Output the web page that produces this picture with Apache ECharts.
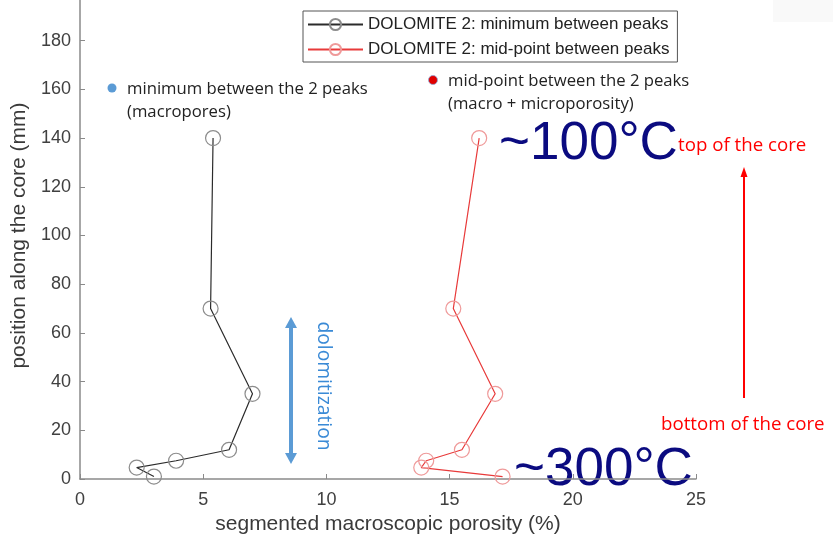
<!DOCTYPE html>
<html>
<head>
<meta charset="utf-8">
<script src="https://cdn.jsdelivr.net/npm/echarts@6/dist/echarts.min.js"></script>
<style>
  html, body { margin: 0; padding: 0; background: #ffffff; }
  #chart { width: 833px; height: 548px; }
</style>
</head>
<body>
<div id="chart"></div>
<script>
// Porosity profiles along the core (DOLOMITE 2)
const seriesNames = ['DOLOMITE 2: minimum between peaks', 'DOLOMITE 2: mid-point between peaks'];
const positionMm = [140, 70, 35, 12, 7.5, 4.7, 1];
const porosityMinimum = [5.4, 5.3, 7.0, 6.05, 3.9, 2.3, 3.0];
const porosityMidpoint = [16.2, 15.15, 16.85, 15.5, 14.05, 13.85, 17.15];
const xTicks = { min: 0, max: 25, step: 5 };
const yTicks = { min: 0, max: 200, step: 20 };

const pairs = (xs, ys) => xs.map((x, i) => [x, ys[i]]);

const chart = echarts.init(document.getElementById('chart'), null, { renderer: 'canvas' });

const noteFont = '"Open Sans", sans-serif';
const axisFont = '"Liberation Sans", Arial, sans-serif';

chart.setOption({
  backgroundColor: '#ffffff',
  animation: false,
  grid: { left: 80, right: 137, top: -8, bottom: 69, outerBoundsMode: 'none', containLabel: false },
  legend: {
    orient: 'vertical',
    left: 303,
    top: 11,
    itemWidth: 55,
    itemHeight: 14,
    itemGap: 8,
    padding: [5, 8, 4, 4],
    borderColor: '#555',
    borderWidth: 1,
    borderRadius: 0,
    backgroundColor: '#fff',
    textStyle: { fontFamily: axisFont, fontSize: 17, color: '#222' },
    data: seriesNames
  },
  xAxis: {
    type: 'value',
    min: xTicks.min, max: xTicks.max, interval: xTicks.step,
    name: 'segmented macroscopic porosity (%)',
    nameLocation: 'middle',
    nameGap: 33,
    nameTextStyle: { fontFamily: axisFont, fontSize: 21, color: '#3a3a3a' },
    axisLine: { lineStyle: { color: '#8a8a8a', width: 1.5 } },
    axisTick: { inside: true, length: 5, lineStyle: { color: '#8a8a8a' } },
    axisLabel: { margin: 12, fontFamily: axisFont, fontSize: 18, color: '#404040' },
    splitLine: { show: false }
  },
  yAxis: {
    type: 'value',
    min: yTicks.min, max: yTicks.max, interval: yTicks.step,
    name: 'position along the core (mm)',
    nameLocation: 'middle',
    nameGap: 38,
    nameTextStyle: { fontFamily: axisFont, fontSize: 21, color: '#3a3a3a' },
    axisLine: { show: true, lineStyle: { color: '#8a8a8a', width: 1.5 } },
    axisTick: { show: true, inside: true, length: 5, lineStyle: { color: '#8a8a8a' } },
    axisLabel: { margin: 9, fontFamily: axisFont, fontSize: 18, color: '#404040' },
    splitLine: { show: false }
  },
  series: [
    {
      name: seriesNames[0],
      type: 'line',
      data: pairs(porosityMinimum, positionMm),
      symbol: 'circle',
      symbolSize: 15,
      lineStyle: { color: '#2b2b2b', width: 1.2 },
      itemStyle: { color: 'rgba(255,255,255,0)', borderColor: '#8c8c8c', borderWidth: 1.2 },
      emphasis: { disabled: true }
    },
    {
      name: seriesNames[1],
      type: 'line',
      data: pairs(porosityMidpoint, positionMm),
      symbol: 'circle',
      symbolSize: 15,
      lineStyle: { color: '#e83a3a', width: 1.2 },
      itemStyle: { color: 'rgba(255,255,255,0)', borderColor: '#ef9a9a', borderWidth: 1.2 },
      emphasis: { disabled: true }
    }
  ],
  graphic: [
    // faint panel in the top-right corner
    { type: 'rect', shape: { x: 773, y: 0, width: 60, height: 22 }, style: { fill: '#f9f9f9' }, z: -1 },
    // note: minimum between the two peaks
    { type: 'circle', shape: { cx: 112, cy: 88, r: 4.5 }, style: { fill: '#5b9bd5' } },
    { type: 'text', left: 127, top: 78, style: { text: 'minimum between the 2 peaks\n(macropores)', font: '16.7px ' + noteFont, fill: '#222', lineHeight: 23 } },
    // note: mid-point between the two peaks
    { type: 'circle', shape: { cx: 433, cy: 80, r: 4.5 }, style: { fill: '#e00000', stroke: '#8fa8d8', lineWidth: 0.8 } },
    { type: 'text', left: 448, top: 70, style: { text: 'mid-point between the 2 peaks\n(macro + microporosity)', font: '16.7px ' + noteFont, fill: '#222', lineHeight: 23 } },
    // temperatures at both ends of the core
    { type: 'text', left: 499, top: 118, style: { text: '~100°C', font: '53px ' + axisFont, fill: '#0b0b80' } },
    { type: 'text', left: 514, top: 444, style: { text: '~300°C', font: '53px ' + axisFont, fill: '#0b0b80' } },
    // core orientation
    { type: 'text', left: 678, top: 136, style: { text: 'top of the core', font: '18.7px ' + noteFont, fill: '#ff0000' } },
    { type: 'text', left: 661, top: 415, style: { text: 'bottom of the core', font: '18.7px ' + noteFont, fill: '#ff0000' } },
    { type: 'line', shape: { x1: 744, y1: 398, x2: 744, y2: 176 }, style: { stroke: '#ff0000', lineWidth: 2 } },
    { type: 'polygon', shape: { points: [[744, 167], [740.5, 177], [747.5, 177]] }, style: { fill: '#ff0000' } },
    // dolomitization zone
    { type: 'line', shape: { x1: 291, y1: 326, x2: 291, y2: 455 }, style: { stroke: '#5b9bd5', lineWidth: 4 } },
    { type: 'polygon', shape: { points: [[291, 317], [285, 328], [297, 328]] }, style: { fill: '#5b9bd5' } },
    { type: 'polygon', shape: { points: [[291, 464], [285, 453], [297, 453]] }, style: { fill: '#5b9bd5' } },
    { type: 'text', x: 323, y: 386, rotation: -Math.PI / 2, style: { text: 'dolomitization', font: '19.3px ' + noteFont, fill: '#3a8ad6', align: 'center', verticalAlign: 'middle' } }
  ]
});
</script>
</body>
</html>
